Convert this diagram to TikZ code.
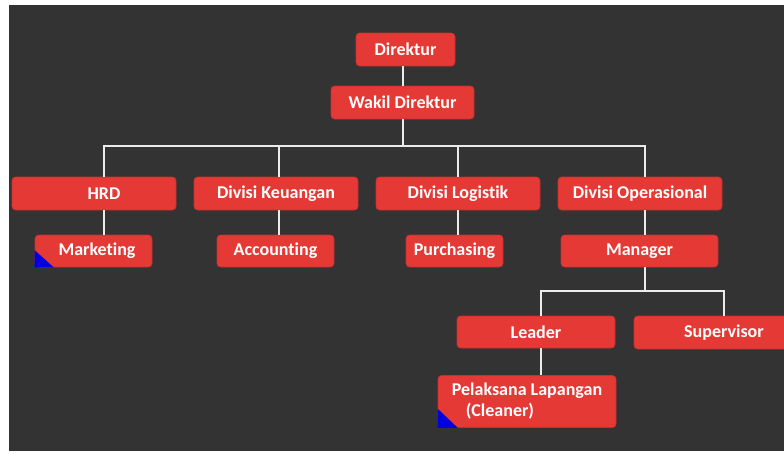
\documentclass[tikz,border=0pt]{standalone}
\usepackage{fontspec}
\setmainfont[Ligatures=NoCommon]{Carlito}
\usetikzlibrary{calc}
\definecolor{bg}{HTML}{333333}
\definecolor{boxred}{HTML}{E53935}
\definecolor{boxedge}{HTML}{C62E2E}
\definecolor{cornerblue}{HTML}{0000E0}
\tikzset{
  unitbox/.style={draw=boxedge, line width=0.6pt, fill=boxred, rounded corners=3.5pt,
    text=white, font=\bfseries\fontsize{18}{21}\selectfont, inner sep=0pt},
  link/.style={draw=white!92!black, line width=2.2pt},
  tag/.style={fill=cornerblue}
}
\begin{document}
\begin{tikzpicture}[x=1pt, y=-1pt]
  \useasboundingbox (0,0) rectangle (784,453);
  \clip (0,0) rectangle (784,453);
  \fill[bg] (9,5) rectangle (784,451);

  % levels of the organisation
  \node[unitbox, minimum width=99, minimum height=33] (dir) at (405.5,49.5) {Direktur};
  \node[unitbox, minimum width=143, minimum height=33] (wakil) at (402.5,102.5) {Wakil Direktur};

  \node[unitbox, minimum width=164, minimum height=33] (hrd) at (94,193.5) {\hspace{20pt}HRD};
  \node[unitbox, minimum width=164, minimum height=33] (keu) at (276,193.5) {Divisi Keuangan};
  \node[unitbox, minimum width=164, minimum height=33] (log) at (458,193.5) {Divisi Logistik};
  \node[unitbox, minimum width=164, minimum height=33] (ops) at (640,193.5) {Divisi Operasional};

  \node[unitbox, minimum width=117, minimum height=32] (mkt) at (93.5,251) {\hspace{7pt}Marketing};
  \node[unitbox, minimum width=117, minimum height=32] (acc) at (275.5,251) {Accounting};
  \node[unitbox, minimum width=97, minimum height=32] (pur) at (454.5,251) {Purchasing};
  \node[unitbox, minimum width=157, minimum height=32] (mgr) at (639.5,251) {Manager};

  \node[unitbox, minimum width=158, minimum height=32] (lead) at (536,332) {Leader};
  \node[unitbox, minimum width=170, minimum height=33] (sup) at (719,332.5) {\hspace{10pt}Supervisor};

  \node[unitbox, minimum width=178, minimum height=52, align=left] (pel) at (527,401.5)
    {Pelaksana Lapangan\\\hspace*{14pt}(Cleaner)};

  % branching points of the connectors
  \coordinate (bus) at (403,146);
  \coordinate (xhrd) at (104,0);
  \coordinate (xkeu) at (279,0);
  \coordinate (xlog) at (458,0);
  \coordinate (xops) at (645,0);
  \coordinate (opsbus) at (645,291);
  \coordinate (xlead) at (541,0);
  \coordinate (xsup) at (724,0);

  % connectors
  \draw[link] (bus |- dir.south) -- (bus |- wakil.north);
  \draw[link] (bus |- wakil.south) -- (bus);
  \draw[link] (xhrd |- hrd.north) -- (xhrd |- bus) -- (xops |- bus) -- (xops |- ops.north);
  \draw[link] (xkeu |- bus) -- (xkeu |- keu.north);
  \draw[link] (xlog |- bus) -- (xlog |- log.north);

  \draw[link] (xhrd |- hrd.south) -- (xhrd |- mkt.north);
  \draw[link] (xkeu |- keu.south) -- (xkeu |- acc.north);
  \draw[link] (xlog |- log.south) -- (xlog |- pur.north);
  \draw[link] (xops |- ops.south) -- (xops |- mgr.north);

  \draw[link] (xops |- mgr.south) -- (opsbus);
  \draw[link] (xlead |- lead.north) -- (xlead |- opsbus) -- (xsup |- opsbus) -- (xsup |- sup.north);
  \draw[link] (xlead |- lead.south) -- (xlead |- pel.north);

  % corner markers
  \fill[tag] (mkt.south west) -- ($(mkt.south west)+(0,-17)$) -- ($(mkt.south west)+(19,0)$) -- cycle;
  \fill[tag] (pel.south west) -- ($(pel.south west)+(0,-19)$) -- ($(pel.south west)+(20,0)$) -- cycle;
\end{tikzpicture}
\end{document}
